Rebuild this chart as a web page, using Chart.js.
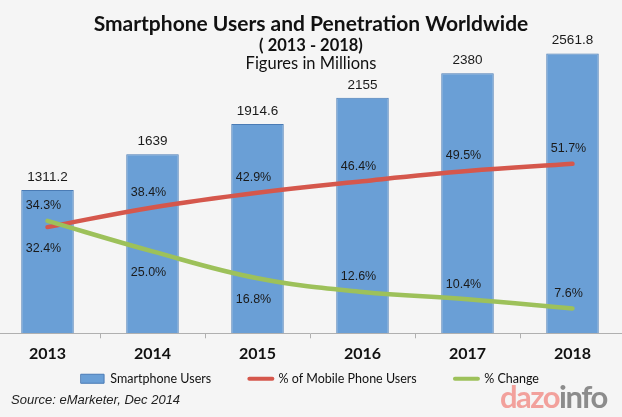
<!DOCTYPE html>
<html>
<head>
<meta charset="utf-8">
<script src="https://cdn.jsdelivr.net/npm/chart.js@4.4.1/dist/chart.umd.min.js"></script>
<style>
  html, body { margin: 0; padding: 0; }
  body { width: 622px; height: 417px; overflow: hidden; background: #f5f5f5; position: relative; font-family: Lato, "Liberation Sans", sans-serif; }
  #wrap { position: absolute; left: -5px; top: 0; width: 630px; height: 417px; }
  .t { position: absolute; left: 0; width: 622px; text-align: center; color: #111; white-space: nowrap; }
  #title { top: 10px; font: 700 21px Lato, sans-serif; }
  #sub { top: 35px; font: 700 16.5px Lato, sans-serif; }
  #fig { top: 53px; font: 400 16.5px Lato, sans-serif; }
  #src { position: absolute; left: 11px; top: 392px; font: italic 13px "Liberation Sans", Arial, sans-serif; color: #222; }
  #logo { position: absolute; left: 500px; top: 377px; font: 700 31px Lato, sans-serif; letter-spacing: -1.5px; }
  #logo .a { color: #f2a19c; }
  #logo .b { color: #8c8c8c; }
</style>
</head>
<body>
<div id="wrap"><canvas id="c" width="630" height="417"></canvas></div>
<div class="t" id="title">Smartphone Users and Penetration Worldwide</div>
<div class="t" id="sub">( 2013 - 2018)</div>
<div class="t" id="fig">Figures in Millions</div>
<div id="src">Source: eMarketer, Dec 2014</div>
<div id="logo"><span class="a">dazo</span><span class="b">info</span></div>
<script>
const years = ['2013', '2014', '2015', '2016', '2017', '2018'];
const smartphoneUsers = [1311.2, 1639, 1914.6, 2155, 2380, 2561.8];
const pctMobileUsers = [32.4, 38.4, 42.9, 46.4, 49.5, 51.7];
const pctChange = [34.3, 25.0, 16.8, 12.6, 10.4, 7.6];
const seriesNames = ['Smartphone Users', '% of Mobile Phone Users', '% Change'];

const BLUE = '#6a9fd6', BLUE_B = '#4a7bb5', RED = '#d5574c', GREEN = '#9dc15a';
const LEGEND_SIZE = 12.5;
const LEGEND_GAP = 33.5;

// trailing spacer so legend items sit as far apart as in the reference
const mctx = document.createElement('canvas').getContext('2d');
mctx.font = LEGEND_SIZE + 'px Lato';
function spacer(target) {
  let s = '';
  while (mctx.measureText(s).width < target) s += ' ';
  return s;
}

const labelPlugin = {
  id: 'valueLabels',
  afterDatasetsDraw(chart) {
    const ctx = chart.ctx;
    ctx.save();
    ctx.textAlign = 'center';
    ctx.textBaseline = 'middle';
    ctx.fillStyle = '#1a1a1a';
    chart.data.datasets.forEach((ds, i) => {
      const meta = chart.getDatasetMeta(i);
      meta.data.forEach((el, j) => {
        const v = ds.data[j];
        if (ds.type === 'bar') {
          ctx.font = '13.5px "Liberation Sans", Arial, sans-serif';
          ctx.fillText(String(v), el.x, el.y - 13);
        } else {
          ctx.font = '12.5px "Liberation Sans", Arial, sans-serif';
          const below = ds.labelPlace[j] === 'below';
          ctx.fillText(v.toFixed(1) + '%', el.x - 4, el.y + (below ? 21 : -15));
        }
      });
    });
    ctx.restore();
  }
};

new Chart(document.getElementById('c'), {
  data: {
    labels: years,
    datasets: [
      {
        type: 'bar', label: seriesNames[0], data: smartphoneUsers, yAxisID: 'y',
        backgroundColor: BLUE, borderColor: BLUE_B, borderWidth: 1,
        barPercentage: 0.5, categoryPercentage: 1.0, order: 2
      },
      {
        type: 'line', label: seriesNames[1], data: pctMobileUsers, yAxisID: 'y1',
        borderColor: RED, backgroundColor: RED, borderWidth: 4.5, tension: 0.4,
        pointRadius: 0, borderCapStyle: 'round', fill: false, order: 1,
        labelPlace: ['below', 'above', 'above', 'above', 'above', 'above']
      },
      {
        type: 'line', label: seriesNames[2], data: pctChange, yAxisID: 'y1',
        borderColor: GREEN, backgroundColor: GREEN, borderWidth: 4.5, tension: 0.4,
        pointRadius: 0, borderCapStyle: 'round', fill: false, order: 0,
        labelPlace: ['above', 'below', 'below', 'above', 'above', 'above']
      }
    ]
  },
  options: {
    responsive: false,
    animation: false,
    layout: { padding: { top: 5.5, bottom: 22, left: 0, right: 0 } },
    plugins: {
      tooltip: { enabled: false },
      title: { display: false },
      legend: {
        position: 'bottom',
        labels: {
          usePointStyle: true,
          pointStyleWidth: 23,
          boxHeight: 9,
          padding: 3,
          color: '#111',
          font: { family: 'Lato', size: LEGEND_SIZE },
          generateLabels(chart) {
            const n = chart.data.datasets.length;
            return chart.data.datasets.map((ds, i) => ({
              text: ds.label + (i < n - 1 ? spacer(LEGEND_GAP) : ''),
              datasetIndex: i,
              hidden: false,
              fillStyle: ds.type === 'bar' ? BLUE : ds.borderColor,
              strokeStyle: ds.type === 'bar' ? BLUE_B : ds.borderColor,
              lineWidth: ds.type === 'bar' ? 1 : 4,
              lineCap: 'round',
              pointStyle: ds.type === 'bar' ? 'rect' : 'line',
              fontColor: '#111'
            }));
          }
        }
      }
    },
    scales: {
      x: {
        offset: true,
        grid: { display: true, drawOnChartArea: false, drawTicks: true, tickLength: 5, color: '#b0b0b0', offset: true },
        border: { display: true, color: '#b0b0b0', width: 1 },
        ticks: { color: '#111', padding: 6, font: { family: 'Lato', size: 16, weight: 'bold' } }
      },
      y: { display: false, min: 0, max: 3000 },
      y1: { display: false, min: 0, max: 100, position: 'right' }
    }
  },
  plugins: [labelPlugin]
});
</script>
</body>
</html>
